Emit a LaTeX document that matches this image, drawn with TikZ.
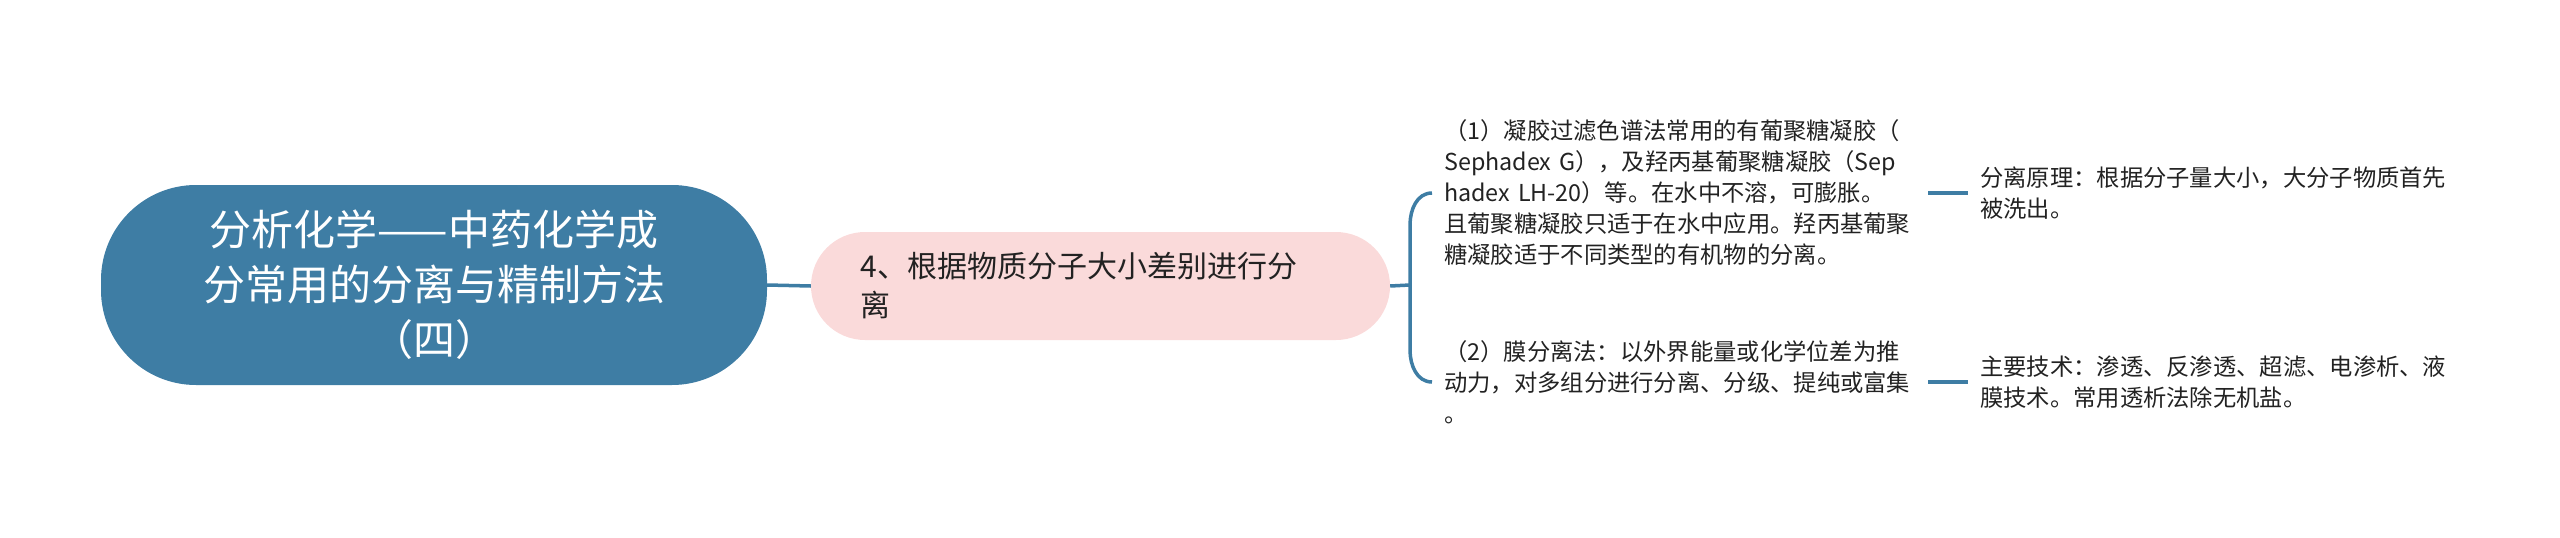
\documentclass[tikz,border=0pt]{standalone}
\usepackage{fontspec}
\newfontfamily\cjk{Noto Sans CJK SC}
\definecolor{rootblue}{RGB}{62,125,164}
\definecolor{pinkfill}{RGB}{250,218,218}
\definecolor{txt}{RGB}{34,34,34}
\begin{document}
\begin{tikzpicture}[x=1pt,y=-1pt,
  conn/.style={draw=rootblue,line width=3.5pt},
  rootbox/.style={fill=rootblue, rounded corners=95pt, minimum width=666pt, minimum height=200pt, text=white, align=center, font=\cjk\fontsize{42}{55}\selectfont},
  subbox/.style={fill=pinkfill, rounded corners=54pt, minimum width=579pt, minimum height=108pt, text=txt, text width=480pt, inner xsep=49.5pt, align=left, font=\cjk\fontsize{30}{39}\selectfont},
  leaf/.style={text=txt, text width=472pt, inner xsep=12pt, inner ysep=0pt, align=left, font=\cjk\fontsize{23.3}{31}\selectfont}]
\useasboundingbox (0,0) rectangle (2560,538);
\node[rootbox] (root) at (434,285) {分析化学——中药化学成\\分常用的分离与精制方法\\（四）};
\node[subbox] (sub) at (1100.5,286) {4、根据物质分子大小差别进行分\\离};
\node[leaf, anchor=west] (t1) at (1432,193) {（1）凝胶过滤色谱法常用的有葡聚糖凝胶（\\Sephadex G），及羟丙基葡聚糖凝胶（Sep\\hadex LH-20）等。在水中不溶，可膨胀。\\且葡聚糖凝胶只适于在水中应用。羟丙基葡聚\\糖凝胶适于不同类型的有机物的分离。};
\node[leaf, anchor=west] (t2) at (1432,382) {（2）膜分离法：以外界能量或化学位差为推\\动力，对多组分进行分离、分级、提纯或富集\\。};
\node[leaf, anchor=west] (t3) at (1968,193) {分离原理：根据分子量大小，大分子物质首先\\被洗出。};
\node[leaf, anchor=west] (t4) at (1968,382) {主要技术：渗透、反渗透、超滤、电渗析、液\\膜技术。常用透析法除无机盐。};
\coordinate (fork) at (1410,285);
\draw[conn] (root.east) -- (sub.west);
\draw[conn] (sub.east) -- (fork);
\draw[conn] (fork) -- ([yshift=-32pt]fork |- t1.west) to[out=90,in=180] (t1.west);
\draw[conn] (fork) -- ([yshift=32pt]fork |- t2.west) to[out=-90,in=180] (t2.west);
\draw[conn] (t1.east) -- (t3.west);
\draw[conn] (t2.east) -- (t4.west);
\end{tikzpicture}
\end{document}
